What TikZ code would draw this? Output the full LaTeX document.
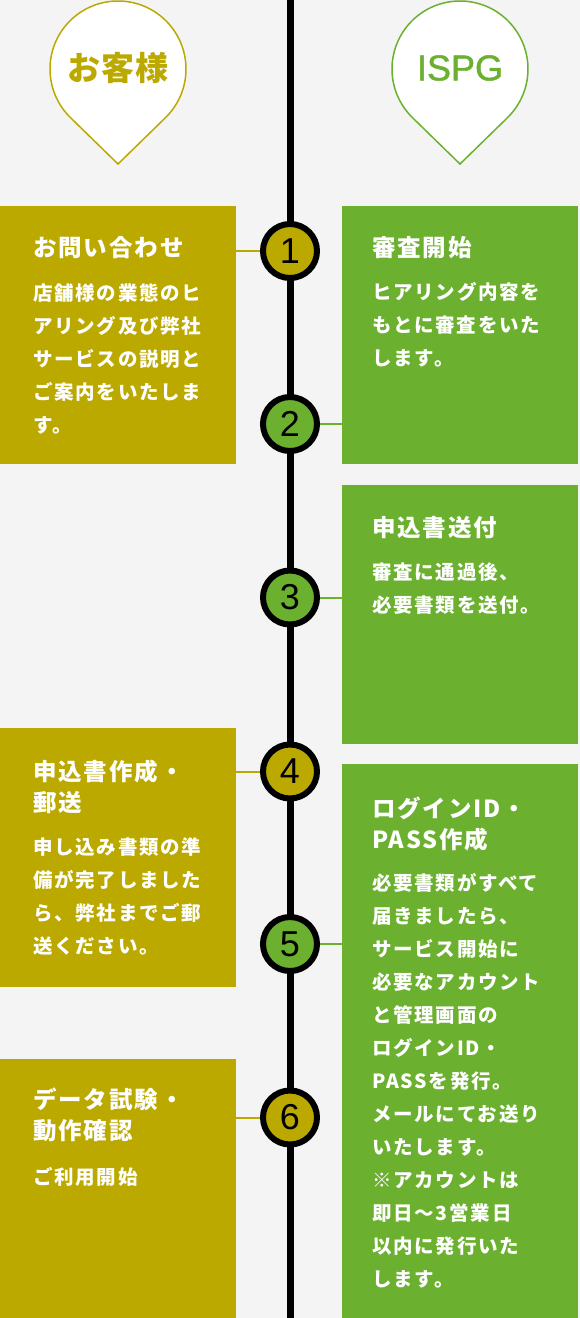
\documentclass[tikz,border=0pt]{standalone}
\usepackage{fontspec}
\setmainfont{Noto Sans CJK JP}
\newfontfamily\jpbody{Noto Sans CJK JP}[LetterSpace=9]
\newfontfamily\jptitle{Noto Sans CJK JP}[LetterSpace=8]
\newfontfamily\jppin{Noto Sans CJK JP}[LetterSpace=3]
\newfontfamily\digitfont{Liberation Sans}
\newfontfamily\ispgfont{Liberation Sans}[FakeBold=1.2]
\usetikzlibrary{calc}
\definecolor{olivebox}{RGB}{187,169,0}
\definecolor{greenbox}{RGB}{107,176,46}
\definecolor{bgc}{RGB}{244,244,244}
\begin{document}
\begin{tikzpicture}[x=1pt,y=-1pt,
  lbox/.style={fill=olivebox, inner sep=0, outer sep=0, anchor=north west, minimum width=236},
  rbox/.style={fill=greenbox, inner sep=0, outer sep=0, anchor=north west, minimum width=236},
  stepnum/.style={circle, draw=black, line width=6, minimum size=54, inner sep=0, font=\digitfont\fontsize{36}{36}\selectfont},
  lnum/.style={stepnum, fill=olivebox},
  rnum/.style={stepnum, fill=greenbox},
  lconn/.style={draw=olivebox, line width=2},
  rconn/.style={draw=greenbox, line width=2},
  ttl/.style={text=white, anchor=base west, inner sep=0, align=left, text width=230, font=\jptitle\bfseries\fontsize{23.5}{31}\selectfont},
  bdy/.style={text=white, anchor=base west, inner sep=0, align=left, text width=230, font=\jpbody\bfseries\fontsize{19.5}{33}\selectfont},
  pinshape/.style={fill=white, line width=1.5},
]
\useasboundingbox (0,0) rectangle (580,1318);
\fill[bgc] (0,0) rectangle (580,1318);

% central line
\coordinate (ltop) at (290,0);
\coordinate (lbot) at (290,1318);
\draw[line width=7] (ltop) -- (lbot);

% pins
\draw[pinshape, draw=olivebox] (118,164) -- ($(118,69)+(134.3:68)$) arc[start angle=134.3, end angle=405.7, radius=68] -- cycle;
\draw[pinshape, draw=greenbox] (460,164) -- ($(460,69)+(134.3:68)$) arc[start angle=134.3, end angle=405.7, radius=68] -- cycle;
\node[text=olivebox, inner sep=0, font=\jppin\bfseries\fontsize{33}{33}\selectfont] (pinL) at (118,68) {お客様};
\node[text=greenbox, inner sep=0, font=\ispgfont\fontsize{36}{36}\selectfont] (pinR) at (460,68) {ISPG};

% boxes
\node[lbox, minimum height=258] (b1) at (0,206) {};
\node[rbox, minimum height=258] (b2) at (342,206) {};
\node[rbox, minimum height=259] (b3) at (342,485) {};
\node[lbox, minimum height=259] (b4) at (0,728) {};
\node[rbox, minimum height=554] (b5) at (342,764) {};
\node[lbox, minimum height=259] (b6) at (0,1059) {};

% step circles
\node[lnum] (c1) at (290,251) {1};
\node[rnum] (c2) at (290,424) {2};
\node[rnum] (c3) at (290,597.5) {3};
\node[lnum] (c4) at (290,771.5) {4};
\node[rnum] (c5) at (290,944) {5};
\node[lnum] (c6) at (290,1117.5) {6};

% connectors
\draw[lconn] (b1.east |- c1) -- (c1);
\draw[rconn] (b2.west |- c2) -- (c2);
\draw[rconn] (b3.west |- c3) -- (c3);
\draw[lconn] (b4.east |- c4) -- (c4);
\draw[rconn] (b5.west |- c5) -- (c5);
\draw[lconn] (b6.east |- c6) -- (c6);

% texts
\node[ttl] (t1) at (33,256) {お問い合わせ};
\node[bdy] (d1) at (33,300) {店舗様の業態のヒ\\アリング及び弊社\\サービスの説明と\\ご案内をいたしま\\す。};
\node[ttl] (t2) at (372,256) {審査開始};
\node[bdy] (d2) at (372,299) {ヒアリング内容を\\もとに審査をいた\\します。};
\node[ttl] (t3) at (372,536) {申込書送付};
\node[bdy] (d3) at (372,579) {審査に通過後、\\必要書類を送付。};
\node[ttl] (t4) at (33,780) {申込書作成・\\郵送};
\node[bdy] (d4) at (33,854) {申し込み書類の準\\備が完了しました\\ら、弊社までご郵\\送ください。};
\node[ttl] (t5) at (372,817) {ログインID・\\PASS作成};
\node[bdy] (d5) at (372,890) {必要書類がすべて\\届きましたら、\\サービス開始に\\必要なアカウント\\と管理画面の\\ログインID・\\PASSを発行。\\メールにてお送り\\いたします。\\※アカウントは\\即日〜3営業日\\以内に発行いた\\します。};
\node[ttl] (t6) at (33,1108) {データ試験・\\動作確認};
\node[bdy] (d6) at (33,1184) {ご利用開始};
\end{tikzpicture}
\end{document}
